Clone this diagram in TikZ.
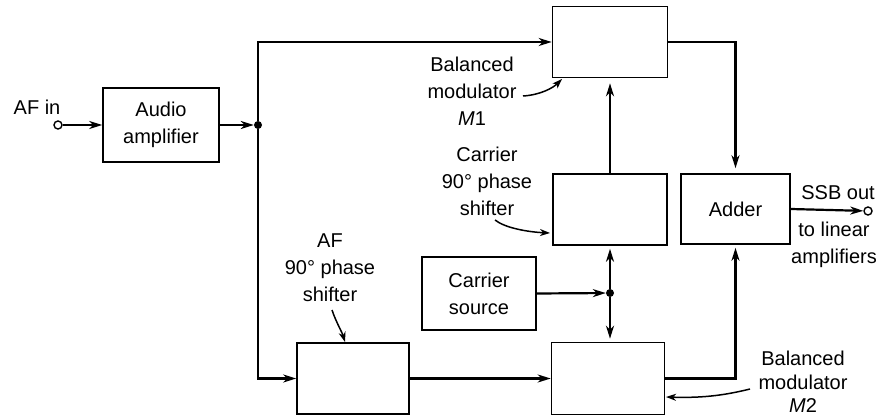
\documentclass[tikz,border=0pt]{standalone}
\usepackage{fontspec}
\setmainfont{Liberation Sans}
\usetikzlibrary{arrows.meta,calc}
\begin{document}
\begin{tikzpicture}[x=1pt,y=-1pt,
  txt/.style={font=\fontsize{20}{27}\selectfont},
  blk/.style={draw, line width=1.6pt, inner sep=0pt, align=center, txt},
  lbl/.style={inner sep=0pt, align=center, txt},
  conn/.style={line width=2.2pt},
  arr/.style={conn, -{Stealth[length=13pt,width=8pt,inset=4pt]}},
  larr/.style={line width=1.5pt, -{Stealth[length=10pt,width=7pt,inset=3pt]}},
  dot/.style={circle, fill, minimum size=8pt, inner sep=0pt},
  term/.style={circle, draw, line width=1.4pt, fill=white, minimum size=8pt, inner sep=0pt}]
\useasboundingbox (0,0) rectangle (883,419);

% blocks
\node[blk, minimum width=116pt, minimum height=74pt] (aud) at (161,125) {Audio\\amplifier};
\node[blk, minimum width=115pt, minimum height=71pt] (m1) at (610,42) {};
\node[blk, minimum width=114pt, minimum height=71pt] (cps) at (610,209.5) {};
\node[blk, minimum width=109pt, minimum height=70pt] (add) at (735.5,209) {Adder};
\node[blk, minimum width=114pt, minimum height=73pt] (src) at (479,293.5) {Carrier\\source};
\node[blk, minimum width=112pt, minimum height=71pt] (afps) at (353,378.5) {};
\node[blk, minimum width=113pt, minimum height=72pt] (m2) at (608,378.5) {};

% terminals and junctions
\node[term] (inc) at (58,125) {};
\node[term] (outc) at (868,211) {};
\node[dot] (j1) at (258,125) {};
\node[dot] (j2) at (610,293) {};

% labels
\node[lbl] (lafin) at (37,107) {AF in};
\node[lbl] (lm1) at (472,91) {Balanced\\modulator\\\textit{M}1};
\node[lbl] (lcps) at (487,181) {Carrier\\90° phase\\shifter};
\node[lbl] (laf) at (330,268) {AF\\90° phase\\shifter};
\node[lbl] (lssb) at (838,193) {SSB out};
\node[lbl] (lto) at (834,245) {to linear\\amplifiers};
\node[lbl, font=\fontsize{20}{23.5}\selectfont] (lm2) at (803,382) {Balanced\\modulator\\\textit{M}2};

% connectors
\draw[arr] (inc) -- (aud.west);
\draw[arr] (aud.east) -- (j1);
\draw[arr] (j1) |- (m1.west);
\draw[arr] (j1) |- (afps.west);
\draw[arr] (afps.east) -- (afps.east -| m2.west);
\draw[arr, shorten >=5pt] (m1.east) -| (add.north);
\draw[arr, shorten >=3pt] (m2.east) -| (add.south);
\draw[arr] (add.east) -- (outc);
\draw[arr, shorten >=5pt] (cps.north) -- (cps.north |- m1.south);
\draw[arr] (src.east) -- (j2);
\draw[arr, shorten >=3pt] (j2) -- (j2 |- cps.south);
\draw[arr, shorten >=3pt] (j2) -- (j2 |- m2.north);

% label pointers
\coordinate (pm1a) at (523,96);
\coordinate (pm1b) at (562,79);
\draw[larr] (pm1a) .. controls (540,95) and (553,88) .. (pm1b);
\coordinate (pcpa) at (495,220);
\coordinate (pcpb) at (550,233);
\draw[larr] (pcpa) .. controls (505,228) and (528,232) .. (pcpb);
\coordinate (pafa) at (332,310);
\coordinate (pafb) at (345,342);
\draw[larr] (pafa) .. controls (336,322) and (342,332) .. (pafb);
\coordinate (pm2a) at (750,389);
\coordinate (pm2b) at (666,397);
\draw[larr] (pm2a) .. controls (722,396) and (700,398) .. (pm2b);
\end{tikzpicture}
\end{document}
